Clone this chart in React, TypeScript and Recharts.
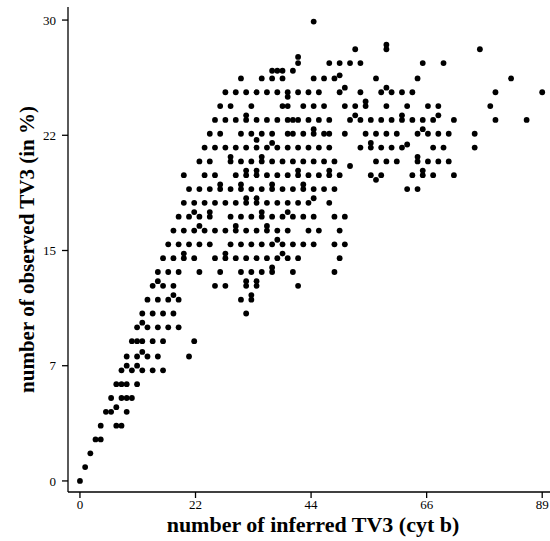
import React from 'react';
import { ScatterChart, Scatter, XAxis, YAxis, Label } from 'recharts';

// observed TV3 (%) for each row of points
const rowY = [
  0, 0.9, 1.8, 2.7, 3.6, 4.5, 5.4, 6.3, 7.2, 8.1, 9.1, 10.0, 10.9, 11.8, 12.7, 13.6, 14.5,
  15.4, 16.3, 17.2, 18.1, 19.0, 19.9, 20.8, 21.7, 22.6, 23.5, 24.4, 25.3, 26.2, 27.2, 28.1, 29.9,
];

// inferred TV3 (cyt b) values sitting on each row above
const rowX = [
  [0],
  [1],
  [2],
  [3, 4],
  [4, 7, 8],
  [5, 6, 9],
  [6, 8, 9, 10],
  [7, 8, 9, 11],
  [8, 10, 12, 14, 16],
  [9, 11, 13, 15, 21],
  [10, 11, 12, 14, 16, 22],
  [11, 13, 15, 17, 19],
  [12, 14, 16, 18, 32],
  [13, 15, 17, 19, 31, 33],
  [14, 16, 18, 26, 28, 32, 34, 42],
  [15, 17, 19, 23, 27, 31, 33, 35, 37, 41, 49],
  [16, 18, 20, 22, 26, 28, 30, 32, 34, 36, 38, 40, 42, 50],
  [17, 19, 21, 23, 25, 29, 31, 33, 35, 37, 39, 41, 43, 45, 49, 51],
  [18, 20, 22, 24, 26, 28, 30, 32, 34, 36, 38, 40, 44, 46, 50],
  [19, 21, 23, 25, 29, 31, 33, 35, 37, 39, 41, 43, 45, 49, 51],
  [20, 22, 24, 26, 28, 30, 32, 34, 36, 38, 40, 42, 44, 48],
  [21, 23, 25, 27, 29, 31, 33, 35, 37, 39, 41, 43, 45, 47, 49, 63, 65],
  [20, 24, 26, 30, 32, 34, 36, 38, 40, 42, 44, 46, 48, 50, 56, 58, 64, 66, 68, 72],
  [23, 25, 29, 31, 33, 35, 37, 39, 41, 43, 45, 47, 49, 57, 59, 61, 65, 67, 69, 71],
  [24, 26, 28, 30, 32, 34, 36, 38, 40, 42, 44, 46, 48, 54, 56, 58, 60, 62, 68, 70, 76],
  [25, 27, 31, 33, 35, 37, 40, 41, 43, 45, 47, 48, 51, 55, 57, 59, 61, 65, 67, 69, 71, 76],
  [26, 28, 30, 32, 34, 36, 38, 40, 41, 42, 44, 46, 48, 52, 54, 56, 58, 60, 62, 64, 66, 68, 72, 80, 86],
  [27, 29, 33, 39, 40, 43, 45, 47, 51, 53, 55, 59, 63, 67, 69, 79],
  [28, 30, 32, 34, 36, 38, 40, 42, 44, 46, 50, 54, 58, 60, 62, 64, 80, 89],
  [31, 35, 37, 39, 45, 47, 49, 57, 65, 83],
  [42, 48, 50, 52, 54, 66, 70],
  [53, 59, 77],
  [45],
];

// points that sit a little off their row (overlapping pairs etc.)
const extraX = [
  7, 9, 11, 12, 12, 15, 18, 23, 22, 40, 38, 39, 37, 63, 66, 51, 59, 37, 38, 39, 41, 42, 59, 53,
  69, 57, 52, 45, 56, 40, 50, 32, 32, 34, 25, 30, 20, 28, 32, 34, 33, 42, 48, 37, 43, 35, 36,
  37, 55, 62, 65, 66, 45, 29, 34, 35, 32, 34, 27, 31,
];
const extraY = [
  4.8, 7.5, 7.5, 8.4, 10.3, 13.0, 12.1, 16.6, 17.5, 17.5, 15.7, 14.8, 22.0, 21.9, 22.9, 25.6,
  25.6, 26.7, 26.7, 26.7, 26.7, 27.6, 28.4, 23.8, 23.8, 19.6, 20.5, 18.4, 22.0, 25.0, 26.4,
  23.8, 18.4, 18.4, 17.5, 16.6, 14.8, 14.8, 13.0, 13.0, 12.1, 20.2, 20.2, 19.3, 19.3, 17.5,
  16.6, 13.9, 24.7, 23.8, 21.1, 20.2, 22.9, 21.1, 22.2, 21.1, 20.2, 20.2, 19.3, 19.3,
];

const xTicks = [0, 22.25, 44.5, 66.75, 89];
const xTickLabels = ['0', '22', '44', '66', '89'];
const yTicks = [0, 7.5, 15, 22.5, 30];
const yTickLabels = ['0', '7', '15', '22', '30'];

const points = rowX
  .flatMap((xs, i) => xs.map(x => ({ x, y: rowY[i] })))
  .concat(extraX.map((x, i) => ({ x, y: extraY[i] })));

const serif = '"Liberation Serif", "Times New Roman", serif';
const tickStyle = { fontFamily: serif, fontSize: 13, fill: '#000' };

const Dot = (props: any) => <circle cx={props.cx} cy={props.cy} r={2.9} fill="#000" />;

const App: React.FC = () => {
  return (
    <div style={{ position: 'absolute', left: 0, top: 0, background: '#fff' }}>
      <ScatterChart width={550} height={541} margin={{ top: 7, right: 0, bottom: 0, left: 0 }}>
        <XAxis
          type="number"
          dataKey="x"
          domain={[-2.3, 90.5]}
          ticks={xTicks}
          tickFormatter={(v: number) => xTickLabels[xTicks.indexOf(v)]}
          allowDataOverflow
          height={49}
          stroke="#000"
          strokeWidth={1.3}
          tickSize={6}
          tickMargin={2}
          tick={tickStyle}
        >
          <Label
            value="number of inferred TV3 (cyt b)"
            position="insideBottom"
            offset={9}
            dx={4}
            style={{ fontFamily: serif, fontSize: 22, fontWeight: 'bold', fill: '#000' }}
          />
        </XAxis>
        <YAxis
          type="number"
          dataKey="y"
          domain={[-0.72, 30.85]}
          ticks={yTicks}
          tickFormatter={(v: number) => yTickLabels[yTicks.indexOf(v)]}
          allowDataOverflow
          width={68}
          stroke="#000"
          strokeWidth={1.3}
          tickSize={6}
          tickMargin={6}
          tick={tickStyle}
        >
          <Label
            value="number of observed TV3 (in %)"
            angle={-90}
            position="insideLeft"
            offset={22}
            dx={5}
            style={{ fontFamily: serif, fontSize: 21, fontWeight: 'bold', fill: '#000', textAnchor: 'middle' }}
          />
        </YAxis>
        <Scatter data={points} shape={Dot} isAnimationActive={false} />
      </ScatterChart>
    </div>
  );
};

export default App;
